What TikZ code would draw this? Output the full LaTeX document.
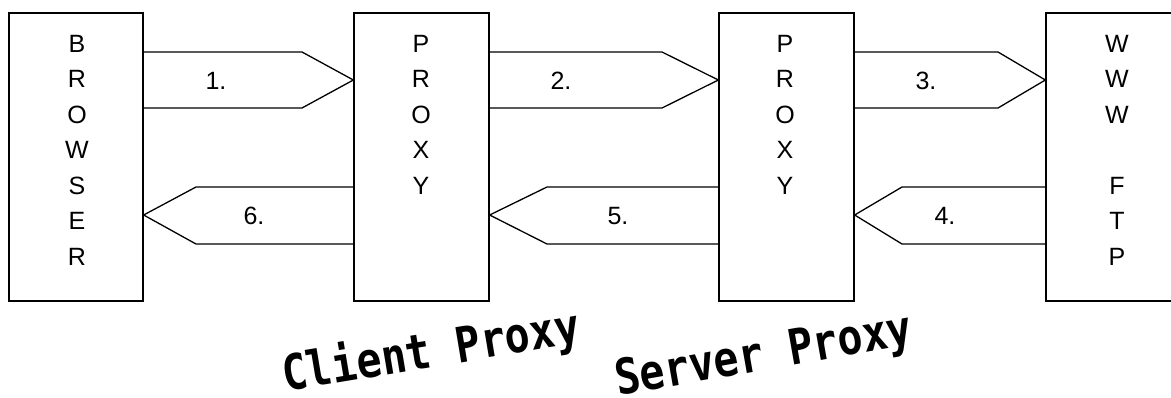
\documentclass[tikz,border=0pt]{standalone}
\usepackage{fontspec}
\setmainfont{Liberation Sans}
\newfontfamily\artfont[FakeStretch=0.85]{DejaVu Sans Mono}
\begin{document}
\begin{tikzpicture}[x=1pt,y=-1pt,
  box/.style={draw,line width=1.3pt,rectangle,minimum width=135pt,minimum height=288pt,inner sep=0pt},
  letters/.style={anchor=north,inner sep=0pt,align=center,font=\fontsize{25}{35.5}\selectfont},
  flow/.style={line width=1.3pt,line join=miter},
  lab/.style={inner sep=0pt,font=\fontsize{25}{30}\selectfont},
  art/.style={inner sep=0pt,anchor=base west,font=\artfont\bfseries\fontsize{49}{55}\selectfont}]
\clip (0,0) rectangle (1171,397);
\fill[white] (0,0) rectangle (1171,397);
% boxes
\node[box,minimum width=134pt] (browser) at (76,157) {};
\node[box] (cproxy) at (421.5,157) {};
\node[box] (sproxy) at (786.5,157) {};
\node[box] (www) at (1113.5,157) {};
% letter columns
\node[letters] (tb) at (77,35) {B\\R\\O\\W\\S\\E\\R};
\node[letters] (tc) at (421,35) {P\\R\\O\\X\\Y};
\node[letters] (ts) at (785,35) {P\\R\\O\\X\\Y};
\node[letters] (tw) at (1117,35) {W\\W\\W\\[35.5pt]F\\T\\P};
% forward arrows
\draw[flow] (browser.east |- 0,52) -- (302,52) -- (cproxy.west |- 0,80) -- (302,108) -- (browser.east |- 0,108);
\draw[flow] (cproxy.east |- 0,52) -- (662,52) -- (sproxy.west |- 0,80) -- (662,108) -- (cproxy.east |- 0,108);
\draw[flow] (sproxy.east |- 0,52) -- (998,52) -- (www.west |- 0,80) -- (998,108) -- (sproxy.east |- 0,108);
% backward arrows
\draw[flow] (www.west |- 0,187) -- (902,187) -- (sproxy.east |- 0,215) -- (902,244) -- (www.west |- 0,244);
\draw[flow] (sproxy.west |- 0,187) -- (547,187) -- (cproxy.east |- 0,215) -- (547,244) -- (sproxy.west |- 0,244);
\draw[flow] (cproxy.west |- 0,187) -- (196,187) -- (browser.east |- 0,215) -- (196,244) -- (cproxy.west |- 0,244);
% labels
\node[lab] (l1) at (216,81) {1.};
\node[lab] (l2) at (561,81) {2.};
\node[lab] (l3) at (926,81) {3.};
\node[lab] (l4) at (945,216) {4.};
\node[lab] (l5) at (618,216) {5.};
\node[lab] (l6) at (254,216) {6.};
% captions
\node[art,rotate=9.5] (capc) at (285,392) {Client Proxy};
\node[art,rotate=10] (caps) at (618,396) {Server Proxy};
\end{tikzpicture}
\end{document}
